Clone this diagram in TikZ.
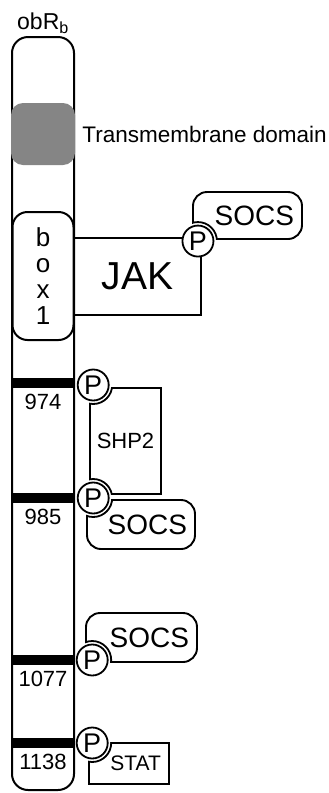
\documentclass[tikz,border=0pt]{standalone}
\usepackage{fontspec}
\setmainfont{Liberation Sans}
\usetikzlibrary{positioning}
\newcommand{\px}[1]{\fontsize{#1}{#1}\selectfont}

\begin{document}
\begin{tikzpicture}[x=1pt, y=-1pt,
  chain/.style={draw, line width=2pt, rounded corners=16pt, minimum width=62pt, minimum height=753pt},
  memb/.style={fill=black!48, rounded corners=12pt, minimum width=64pt, minimum height=62pt},
  motif/.style={draw, fill=white, line width=2pt, rounded corners=15pt, minimum width=61pt,
                minimum height=128pt, align=center, inner sep=0pt, font=\px{26}},
  site/.style={fill=black, minimum width=64pt, minimum height=10pt, inner sep=0pt},
  num/.style={font=\px{22}, inner sep=2pt},
  phos/.style={circle, draw, fill=white, line width=1.8pt, minimum size=31pt, inner sep=0pt, font=\px{27}},
  halo/.style={circle, draw, fill=white, line width=1.8pt, minimum size=38pt, inner sep=0pt},
  partner/.style={draw, line width=1.9pt, inner xsep=8pt, inner ysep=0pt, align=right},
  socs/.style={partner, rounded corners=14pt, font=\px{28}, text width=#1},
  lbl/.style={inner sep=2pt, anchor=west},
]
\useasboundingbox (0,0) rectangle (329,793);

% ------------------------------------------------------------ receptor chain
\node[chain] (rec) at (43,413.5) {};
\node[font=\px{23}, above=-1pt of rec] (name) {obR\textsubscript{b}};
\node[memb] (tm) at (43,134) {};
\node[lbl, font=\px{22.5}, right=5pt of tm] (tmlbl) {Transmembrane domain};
\node[motif] (box1) at (43,276) {b\\o\\x\\1};

% ------------------------------------------------------------ JAK
\node[draw, line width=1.9pt, minimum width=127pt, minimum height=77pt, font=\px{39}] (jak) at (137.5,276.5) {JAK};

% ------------------------------------------------------------ tyrosines
\node[site] (y974) at (43,383) {};
\node[site] (y985) at (43,498) {};
\node[site] (y1077) at (43,660) {};
\node[site] (y1138) at (43,743) {};
\node[num, below=4pt of y974] (n974) {974};
\node[num, below=4pt of y985] (n985) {985};
\node[num, below=4pt of y1077] (n1077) {1077};
\node[num, below=4pt of y1138] (n1138) {1138};

\coordinate (cjak) at ([shift={(-4,4)}]jak.north east);
\coordinate (c974) at ([shift={(18,2)}]y974.east);
\coordinate (c985) at ([shift={(18,0)}]y985.east);
\coordinate (c1077) at ([shift={(17,0)}]y1077.east);
\coordinate (c1138) at ([shift={(17,0)}]y1138.east);

% ------------------------------------------------------------ binding partners
\node[socs=93pt, minimum height=47pt] (socsjak) at (247.5,215.5) {SOCS};
\node[draw, line width=1.9pt, minimum width=71pt, minimum height=106pt, font=\px{22}] (shp) at (125.5,441) {SHP2};
\node[socs=92pt, minimum height=49pt] (socs985) at (141,524.5) {SOCS};
\node[socs=95pt, minimum height=49pt] (socs1077) at (141.5,637.5) {SOCS};
\node[partner, text width=64pt, minimum height=41pt, font=\px{21}] (stat) at (129,763.5) {STAT};

% the boxes wrap round the phosphates that sit on their corners
\begin{scope}
  \clip (socsjak.south west) rectangle (socsjak.north east);
  \node[halo] at (cjak) {};
\end{scope}
\begin{scope}
  \clip (shp.south west) rectangle (shp.north east);
  \node[halo] at (c974) {};
  \node[halo] at (c985) {};
\end{scope}
\begin{scope}
  \clip (socs985.south west) rectangle (socs985.north east);
  \node[halo] at (c985) {};
\end{scope}
\begin{scope}
  \clip (socs1077.south west) rectangle (socs1077.north east);
  \node[halo] at (c1077) {};
\end{scope}
\begin{scope}
  \clip (stat.south west) rectangle (stat.north east);
  \node[halo] at (c1138) {};
\end{scope}

% ------------------------------------------------------------ phosphates
\node[phos] (pjak) at (cjak) {P};
\node[phos] (p974) at (c974) {P};
\node[phos] (p985) at (c985) {P};
\node[phos] (p1077) at (c1077) {P};
\node[phos] (p1138) at (c1138) {P};
\end{tikzpicture}
\end{document}
